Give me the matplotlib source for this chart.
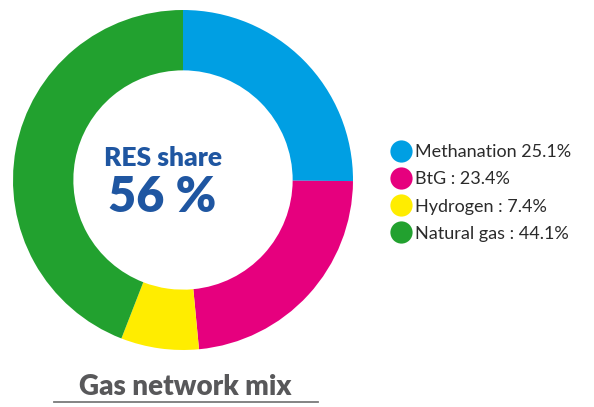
import matplotlib.pyplot as plt
from matplotlib.lines import Line2D

labels = ["Methanation 25.1%", "BtG : 23.4%", "Hydrogen : 7.4%", "Natural gas : 44.1%"]
shares = [25.1, 23.4, 7.4, 44.1]
colors = ["#009FE3", "#E6007E", "#FFED00", "#22A12F"]
res_share = "56 %"

W, H = 594, 407
fig = plt.figure(figsize=(W / 100, H / 100), dpi=100)

# donut
ax = fig.add_axes([13 / W, (H - 350) / H, 340 / W, 340 / H])
ax.pie(shares, colors=colors, startangle=90, counterclock=False,
       wedgeprops=dict(width=0.355, linewidth=0), radius=1.0)
ax.set_xlim(-1, 1)
ax.set_ylim(-1, 1)
ax.set_aspect("equal")
ax.text(-0.12, 0.13, "RES share", ha="center", va="center", fontsize=19,
        fontweight="heavy", color="#1F56A1", family="Lato")
ax.text(-0.12, -0.1, res_share, ha="center", va="center", fontsize=35,
        fontweight="heavy", color="#1F56A1", family="Lato")

# legend
handles = [Line2D([], [], marker="o", linestyle="", markersize=16,
                  markerfacecolor=c, markeredgewidth=0) for c in colors]
fig.legend(handles, labels, loc="center left", bbox_to_anchor=(372 / W, (H - 193) / H),
           frameon=False, handletextpad=0.1, labelspacing=0.62, handlelength=1.4,
           prop=dict(family="Lato", size=13), labelcolor="#2B2B2B")

# title with underline
fig.text(185 / W, (H - 387) / H, "Gas network mix", ha="center", va="center",
         fontsize=20, fontweight="heavy", color="#58585A", family="Lato")
fig.add_artist(Line2D([54 / W, 318 / W], [(H - 402) / H] * 2, color="#7A7A7A", lw=1.3))

fig.savefig("out.png", dpi=100)
